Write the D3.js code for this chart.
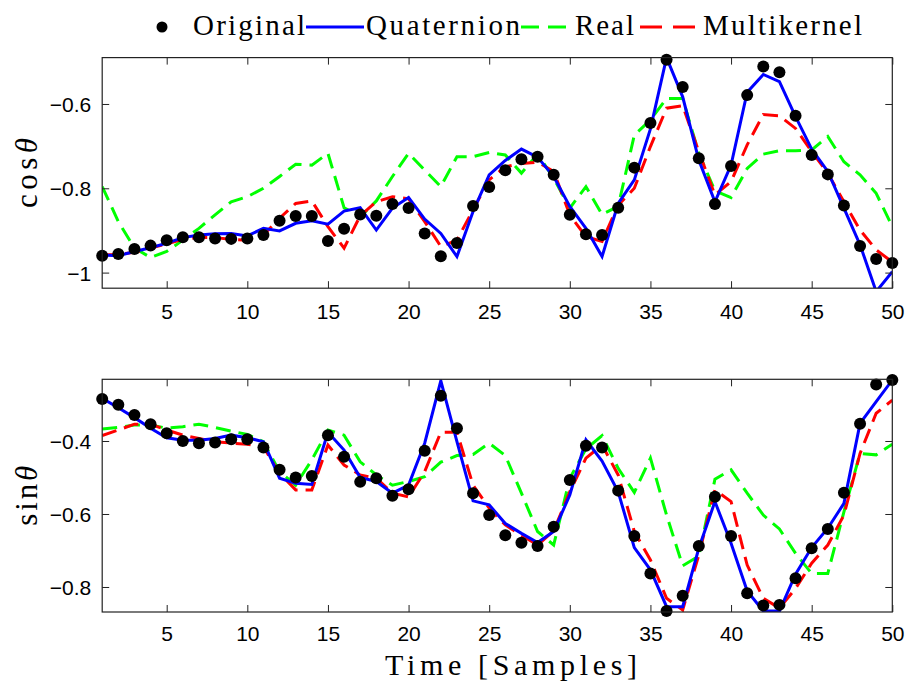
<!DOCTYPE html>
<html>
<head>
<meta charset="utf-8">
<script src="https://cdn.jsdelivr.net/npm/d3@7"></script>
<style>
  html, body { margin: 0; padding: 0; background: #fff; }
  svg { display: block; }
</style>
</head>
<body>
<svg id="chart" width="910" height="682"></svg>
<script>
// Sample index 1..50
const samples = d3.range(1, 51);

// cos(theta) panel
const cosOriginal = [-0.960,-0.956,-0.944,-0.936,-0.923,-0.916,-0.916,-0.919,-0.920,-0.919,
  -0.911,-0.877,-0.866,-0.866,-0.925,-0.896,-0.862,-0.865,-0.837,-0.847,
  -0.907,-0.961,-0.930,-0.842,-0.797,-0.757,-0.731,-0.725,-0.768,-0.863,
  -0.909,-0.911,-0.846,-0.751,-0.645,-0.495,-0.560,-0.729,-0.837,-0.747,
  -0.579,-0.511,-0.525,-0.628,-0.721,-0.767,-0.841,-0.937,-0.968,-0.977];
const cosQuaternion = [-0.958,-0.960,-0.950,-0.941,-0.930,-0.917,-0.911,-0.908,-0.907,-0.913,
  -0.895,-0.901,-0.883,-0.877,-0.885,-0.854,-0.846,-0.899,-0.847,-0.822,
  -0.873,-0.907,-0.962,-0.855,-0.768,-0.734,-0.707,-0.726,-0.772,-0.843,
  -0.895,-0.962,-0.836,-0.780,-0.659,-0.490,-0.583,-0.733,-0.832,-0.745,
  -0.572,-0.530,-0.547,-0.630,-0.707,-0.760,-0.847,-0.934,-1.045,-0.998];
const cosReal = [-0.796,-0.879,-0.942,-0.964,-0.950,-0.923,-0.895,-0.863,-0.832,-0.820,
  -0.800,-0.772,-0.743,-0.745,-0.717,-0.846,-0.868,-0.830,-0.772,-0.717,
  -0.757,-0.796,-0.725,-0.725,-0.715,-0.721,-0.764,-0.719,-0.776,-0.847,
  -0.796,-0.862,-0.843,-0.674,-0.638,-0.587,-0.587,-0.717,-0.806,-0.822,
  -0.753,-0.719,-0.711,-0.711,-0.709,-0.677,-0.737,-0.768,-0.812,-0.891];
const cosMultikernel = [-0.958,-0.957,-0.952,-0.942,-0.932,-0.921,-0.917,-0.917,-0.921,-0.923,
  -0.911,-0.871,-0.836,-0.830,-0.891,-0.942,-0.865,-0.832,-0.820,-0.825,
  -0.879,-0.938,-0.923,-0.851,-0.780,-0.749,-0.741,-0.738,-0.760,-0.863,
  -0.915,-0.926,-0.840,-0.800,-0.701,-0.610,-0.604,-0.713,-0.816,-0.784,
  -0.697,-0.625,-0.628,-0.658,-0.713,-0.764,-0.832,-0.899,-0.946,-0.975];

// sin(theta) panel
const sinOriginal = [-0.285,-0.301,-0.329,-0.354,-0.379,-0.400,-0.406,-0.404,-0.395,-0.395,
  -0.418,-0.479,-0.500,-0.496,-0.384,-0.443,-0.512,-0.502,-0.550,-0.532,
  -0.427,-0.276,-0.365,-0.543,-0.603,-0.658,-0.679,-0.688,-0.635,-0.507,
  -0.413,-0.418,-0.536,-0.660,-0.763,-0.866,-0.824,-0.688,-0.553,-0.660,
  -0.817,-0.851,-0.849,-0.776,-0.694,-0.641,-0.542,-0.353,-0.245,-0.233];
const sinQuaternion = [-0.283,-0.309,-0.336,-0.365,-0.391,-0.398,-0.398,-0.393,-0.384,-0.391,
  -0.402,-0.502,-0.516,-0.519,-0.376,-0.425,-0.500,-0.511,-0.543,-0.521,
  -0.406,-0.235,-0.402,-0.564,-0.575,-0.626,-0.653,-0.678,-0.648,-0.548,
  -0.397,-0.455,-0.539,-0.692,-0.753,-0.854,-0.854,-0.694,-0.566,-0.680,
  -0.811,-0.866,-0.866,-0.765,-0.692,-0.639,-0.571,-0.352,-0.292,-0.233];
const sinReal = [-0.367,-0.363,-0.356,-0.356,-0.365,-0.361,-0.354,-0.363,-0.373,-0.382,
  -0.402,-0.484,-0.521,-0.452,-0.370,-0.384,-0.457,-0.493,-0.521,-0.511,
  -0.498,-0.458,-0.440,-0.437,-0.406,-0.440,-0.543,-0.648,-0.685,-0.502,
  -0.422,-0.385,-0.475,-0.541,-0.447,-0.603,-0.742,-0.715,-0.505,-0.479,
  -0.543,-0.603,-0.641,-0.708,-0.763,-0.763,-0.594,-0.434,-0.438,-0.409];
const sinMultikernel = [-0.385,-0.370,-0.354,-0.354,-0.370,-0.384,-0.393,-0.402,-0.406,-0.409,
  -0.416,-0.489,-0.534,-0.534,-0.411,-0.466,-0.493,-0.502,-0.543,-0.553,
  -0.484,-0.376,-0.376,-0.521,-0.584,-0.630,-0.658,-0.685,-0.646,-0.539,
  -0.447,-0.411,-0.493,-0.648,-0.726,-0.831,-0.863,-0.712,-0.534,-0.566,
  -0.740,-0.831,-0.858,-0.804,-0.735,-0.685,-0.603,-0.434,-0.324,-0.288];

// Axis ticks
const xTicks = [5, 10, 15, 20, 25, 30, 35, 40, 45, 50];
const cosTicks = [-1, -0.8, -0.6];
const sinTicks = [-0.8, -0.6, -0.4];

const legendLabels = ["Original", "Quaternion", "Real", "Multikernel"];

const colors = { quat: "#0000ff", real: "#00ff00", multi: "#ff0000", orig: "#000000" };
const dash = "15,8";
const tickFont = "'Liberation Sans', Arial, Helvetica, sans-serif";
const texFont = "'Liberation Serif', 'DejaVu Serif', serif";

const svg = d3.select("#chart");
const x = d3.scaleLinear().domain([1, 50]).range([102.2, 892.3]);

const fmt = v => (v < 0 ? "\u2212" : "") + String(Math.abs(v));

function panel(id, top, bottom, domain, ticks, series, label, labelLen, tickGap) {
  const y = d3.scaleLinear().domain(domain).range([bottom, top]);
  const g = svg.append("g");

  g.append("clipPath").attr("id", id)
    .append("rect").attr("x", x.range()[0]).attr("y", top)
    .attr("width", x.range()[1] - x.range()[0]).attr("height", bottom - top);

  const line = d3.line().x((d, i) => x(samples[i])).y(d => y(d));
  const plot = g.append("g").attr("clip-path", `url(#${id})`);

  plot.append("path").datum(series.real)
    .attr("d", line).attr("fill", "none")
    .attr("stroke", colors.real).attr("stroke-width", 3)
    .attr("stroke-dasharray", dash);
  plot.append("path").datum(series.multi)
    .attr("d", line).attr("fill", "none")
    .attr("stroke", colors.multi).attr("stroke-width", 3)
    .attr("stroke-dasharray", dash);
  plot.append("path").datum(series.quat)
    .attr("d", line).attr("fill", "none")
    .attr("stroke", colors.quat).attr("stroke-width", 3)
    .attr("stroke-linejoin", "miter");

  g.append("g").selectAll("circle").data(series.orig).join("circle")
    .attr("cx", (d, i) => x(samples[i])).attr("cy", d => y(d))
    .attr("r", 6).attr("fill", colors.orig);

  // axes with inward ticks on every side
  const tl = 7;
  const axB = d3.axisBottom(x).tickValues(xTicks).tickSizeInner(-tl).tickSizeOuter(0).tickFormat(fmt);
  const axT = d3.axisTop(x).tickValues(xTicks).tickSizeInner(-tl).tickSizeOuter(0).tickFormat("");
  const axL = d3.axisLeft(y).tickValues(ticks).tickSizeInner(-tl).tickSizeOuter(0).tickFormat(fmt);
  const axR = d3.axisRight(y).tickValues(ticks).tickSizeInner(-tl).tickSizeOuter(0).tickFormat("");

  const gb = g.append("g").attr("transform", `translate(0,${bottom})`).call(axB);
  const gt = g.append("g").attr("transform", `translate(0,${top})`).call(axT);
  const gl = g.append("g").attr("transform", `translate(${x.range()[0]},0)`).call(axL);
  const gr = g.append("g").attr("transform", `translate(${x.range()[1]},0)`).call(axR);

  [gb, gt, gl, gr].forEach(a => {
    a.selectAll(".domain").remove();
    a.selectAll(".tick line").attr("stroke", "#222").attr("stroke-width", 1);
  });
  gb.selectAll(".tick text")
    .attr("font-family", tickFont).attr("font-size", 21).attr("fill", "#000")
    .attr("y", 0).attr("dy", 0)
    .attr("transform", `translate(0,${tickGap})`);
  gl.selectAll(".tick text")
    .attr("font-family", tickFont).attr("font-size", 21).attr("fill", "#000")
    .attr("x", -11).attr("dy", "0.36em");

  g.append("rect")
    .attr("x", x.range()[0]).attr("y", top)
    .attr("width", x.range()[1] - x.range()[0]).attr("height", bottom - top)
    .attr("fill", "none").attr("stroke", "#222").attr("stroke-width", 1.2);

  const cy = (top + bottom) / 2;
  const t = g.append("text")
    .attr("transform", `translate(37,${cy}) rotate(-90)`)
    .attr("text-anchor", "middle")
    .attr("font-family", texFont).attr("font-size", 31).attr("font-weight", "normal")
    .attr("fill", "#000")
    .attr("textLength", labelLen).attr("lengthAdjust", "spacing");
  t.append("tspan").text(label);
  t.append("tspan").attr("font-style", "italic").text("\u03b8");
}

panel("clipCos", 57.6, 288.2, [-1.037, -0.49], cosTicks,
  { orig: cosOriginal, quat: cosQuaternion, real: cosReal, multi: cosMultikernel }, "cos", 70, 31);
panel("clipSin", 379.3, 612, [-0.8685, -0.231], sinTicks,
  { orig: sinOriginal, quat: sinQuaternion, real: sinReal, multi: sinMultikernel }, "sin", 60, 29);

// x-axis title
svg.append("text")
  .attr("x", 511).attr("y", 675)
  .attr("text-anchor", "middle")
  .attr("font-family", texFont).attr("font-size", 30).attr("font-weight", "normal")
  .attr("fill", "#000")
  .attr("textLength", 252).attr("lengthAdjust", "spacing")
  .text("Time [Samples]");

// legend
const lg = svg.append("g");
const ly = 27, lb = 35;
lg.append("circle").attr("cx", 162).attr("cy", ly).attr("r", 5.5).attr("fill", colors.orig);
lg.append("line").attr("x1", 306).attr("x2", 364).attr("y1", ly).attr("y2", ly)
  .attr("stroke", colors.quat).attr("stroke-width", 3);
lg.append("line").attr("x1", 521).attr("x2", 566).attr("y1", ly).attr("y2", ly)
  .attr("stroke", colors.real).attr("stroke-width", 3).attr("stroke-dasharray", "18,9");
lg.append("line").attr("x1", 640).attr("x2", 695).attr("y1", ly).attr("y2", ly)
  .attr("stroke", colors.multi).attr("stroke-width", 3).attr("stroke-dasharray", "22,11");

const legendPos = [[193, 112], [366, 154], [575, 59], [703, 159]];
lg.selectAll("text.lbl").data(legendLabels).join("text")
  .attr("class", "lbl")
  .attr("x", (d, i) => legendPos[i][0]).attr("y", lb)
  .attr("font-family", texFont).attr("font-size", 29).attr("font-weight", "normal")
  .attr("fill", "#000")
  .attr("textLength", (d, i) => legendPos[i][1]).attr("lengthAdjust", "spacing")
  .text(d => d);
</script>
</body>
</html>
